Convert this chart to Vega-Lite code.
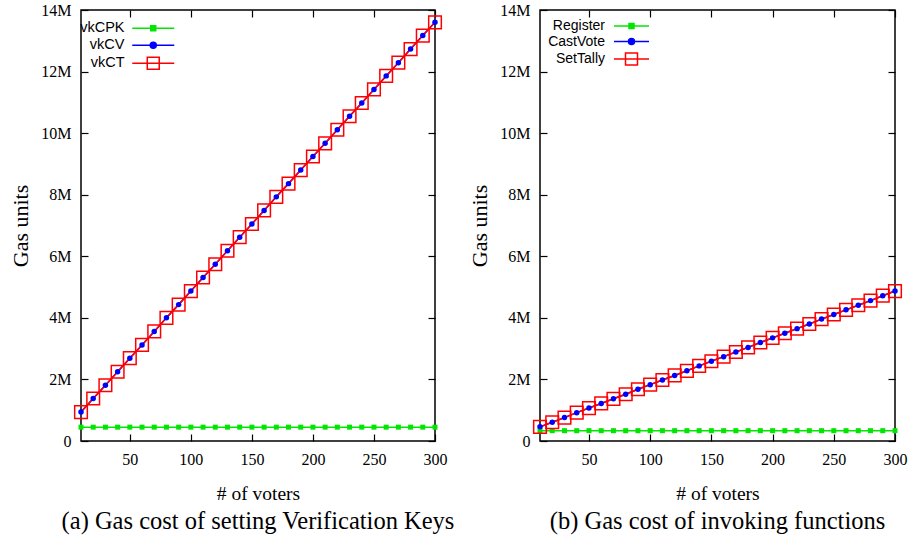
{
  "$schema": "https://vega.github.io/schema/vega-lite/v6.json",
  "background": "white",
  "padding": {"left": 9, "top": 1, "right": 5, "bottom": 2},
  "spacing": 12,
  "resolve": {"scale": {"color": "independent"}, "legend": {"color": "independent"}},
  "config": {
    "view": {"stroke": "black", "strokeWidth": 1.5},
    "axis": {
      "domain": false, "grid": false,
      "tickColor": "black", "tickSize": -7, "tickWidth": 1.2,
      "labelFont": "Liberation Serif", "labelFontSize": 16, "labelColor": "black", "labelPadding": 17, "labelFlush": false,
      "titleFont": "Liberation Serif", "titleFontSize": 19.5, "titleFontWeight": "normal", "titleColor": "black"
    },
    "legend": {"labelFont": "Liberation Sans", "labelFontSize": 14.5, "labelColor": "black"}
  },
  "datasets": {
    "a": [
      {"voters":10,"series":"vkCPK","gas":450000},{"voters":20,"series":"vkCPK","gas":450000},{"voters":30,"series":"vkCPK","gas":450000},{"voters":40,"series":"vkCPK","gas":450000},{"voters":50,"series":"vkCPK","gas":450000},{"voters":60,"series":"vkCPK","gas":450000},{"voters":70,"series":"vkCPK","gas":450000},{"voters":80,"series":"vkCPK","gas":450000},{"voters":90,"series":"vkCPK","gas":450000},{"voters":100,"series":"vkCPK","gas":450000},
      {"voters":110,"series":"vkCPK","gas":450000},{"voters":120,"series":"vkCPK","gas":450000},{"voters":130,"series":"vkCPK","gas":450000},{"voters":140,"series":"vkCPK","gas":450000},{"voters":150,"series":"vkCPK","gas":450000},{"voters":160,"series":"vkCPK","gas":450000},{"voters":170,"series":"vkCPK","gas":450000},{"voters":180,"series":"vkCPK","gas":450000},{"voters":190,"series":"vkCPK","gas":450000},{"voters":200,"series":"vkCPK","gas":450000},
      {"voters":210,"series":"vkCPK","gas":450000},{"voters":220,"series":"vkCPK","gas":450000},{"voters":230,"series":"vkCPK","gas":450000},{"voters":240,"series":"vkCPK","gas":450000},{"voters":250,"series":"vkCPK","gas":450000},{"voters":260,"series":"vkCPK","gas":450000},{"voters":270,"series":"vkCPK","gas":450000},{"voters":280,"series":"vkCPK","gas":450000},{"voters":290,"series":"vkCPK","gas":450000},{"voters":300,"series":"vkCPK","gas":450000},
      {"voters":10,"series":"vkCV","gas":940000},{"voters":20,"series":"vkCV","gas":1380000},{"voters":30,"series":"vkCV","gas":1810000},{"voters":40,"series":"vkCV","gas":2250000},{"voters":50,"series":"vkCV","gas":2690000},{"voters":60,"series":"vkCV","gas":3120000},{"voters":70,"series":"vkCV","gas":3560000},{"voters":80,"series":"vkCV","gas":4000000},{"voters":90,"series":"vkCV","gas":4430000},{"voters":100,"series":"vkCV","gas":4870000},
      {"voters":110,"series":"vkCV","gas":5310000},{"voters":120,"series":"vkCV","gas":5740000},{"voters":130,"series":"vkCV","gas":6180000},{"voters":140,"series":"vkCV","gas":6620000},{"voters":150,"series":"vkCV","gas":7050000},{"voters":160,"series":"vkCV","gas":7490000},{"voters":170,"series":"vkCV","gas":7930000},{"voters":180,"series":"vkCV","gas":8360000},{"voters":190,"series":"vkCV","gas":8800000},{"voters":200,"series":"vkCV","gas":9240000},
      {"voters":210,"series":"vkCV","gas":9670000},{"voters":220,"series":"vkCV","gas":10110000},{"voters":230,"series":"vkCV","gas":10550000},{"voters":240,"series":"vkCV","gas":10980000},{"voters":250,"series":"vkCV","gas":11420000},{"voters":260,"series":"vkCV","gas":11860000},{"voters":270,"series":"vkCV","gas":12290000},{"voters":280,"series":"vkCV","gas":12730000},{"voters":290,"series":"vkCV","gas":13170000},{"voters":300,"series":"vkCV","gas":13600000},
      {"voters":10,"series":"vkCT","gas":940000},{"voters":20,"series":"vkCT","gas":1380000},{"voters":30,"series":"vkCT","gas":1810000},{"voters":40,"series":"vkCT","gas":2250000},{"voters":50,"series":"vkCT","gas":2690000},{"voters":60,"series":"vkCT","gas":3120000},{"voters":70,"series":"vkCT","gas":3560000},{"voters":80,"series":"vkCT","gas":4000000},{"voters":90,"series":"vkCT","gas":4430000},{"voters":100,"series":"vkCT","gas":4870000},
      {"voters":110,"series":"vkCT","gas":5310000},{"voters":120,"series":"vkCT","gas":5740000},{"voters":130,"series":"vkCT","gas":6180000},{"voters":140,"series":"vkCT","gas":6620000},{"voters":150,"series":"vkCT","gas":7050000},{"voters":160,"series":"vkCT","gas":7490000},{"voters":170,"series":"vkCT","gas":7930000},{"voters":180,"series":"vkCT","gas":8360000},{"voters":190,"series":"vkCT","gas":8800000},{"voters":200,"series":"vkCT","gas":9240000},
      {"voters":210,"series":"vkCT","gas":9670000},{"voters":220,"series":"vkCT","gas":10110000},{"voters":230,"series":"vkCT","gas":10550000},{"voters":240,"series":"vkCT","gas":10980000},{"voters":250,"series":"vkCT","gas":11420000},{"voters":260,"series":"vkCT","gas":11860000},{"voters":270,"series":"vkCT","gas":12290000},{"voters":280,"series":"vkCT","gas":12730000},{"voters":290,"series":"vkCT","gas":13170000},{"voters":300,"series":"vkCT","gas":13600000}
    ],
    "b": [
      {"voters":10,"series":"Register","gas":335000},{"voters":20,"series":"Register","gas":335000},{"voters":30,"series":"Register","gas":335000},{"voters":40,"series":"Register","gas":335000},{"voters":50,"series":"Register","gas":335000},{"voters":60,"series":"Register","gas":335000},{"voters":70,"series":"Register","gas":335000},{"voters":80,"series":"Register","gas":335000},{"voters":90,"series":"Register","gas":335000},{"voters":100,"series":"Register","gas":335000},
      {"voters":110,"series":"Register","gas":335000},{"voters":120,"series":"Register","gas":335000},{"voters":130,"series":"Register","gas":335000},{"voters":140,"series":"Register","gas":335000},{"voters":150,"series":"Register","gas":335000},{"voters":160,"series":"Register","gas":335000},{"voters":170,"series":"Register","gas":335000},{"voters":180,"series":"Register","gas":335000},{"voters":190,"series":"Register","gas":335000},{"voters":200,"series":"Register","gas":335000},
      {"voters":210,"series":"Register","gas":335000},{"voters":220,"series":"Register","gas":335000},{"voters":230,"series":"Register","gas":335000},{"voters":240,"series":"Register","gas":335000},{"voters":250,"series":"Register","gas":335000},{"voters":260,"series":"Register","gas":335000},{"voters":270,"series":"Register","gas":335000},{"voters":280,"series":"Register","gas":335000},{"voters":290,"series":"Register","gas":335000},{"voters":300,"series":"Register","gas":335000},
      {"voters":10,"series":"CastVote","gas":460000},{"voters":20,"series":"CastVote","gas":610000},{"voters":30,"series":"CastVote","gas":760000},{"voters":40,"series":"CastVote","gas":920000},{"voters":50,"series":"CastVote","gas":1070000},{"voters":60,"series":"CastVote","gas":1220000},{"voters":70,"series":"CastVote","gas":1370000},{"voters":80,"series":"CastVote","gas":1520000},{"voters":90,"series":"CastVote","gas":1680000},{"voters":100,"series":"CastVote","gas":1830000},
      {"voters":110,"series":"CastVote","gas":1980000},{"voters":120,"series":"CastVote","gas":2130000},{"voters":130,"series":"CastVote","gas":2280000},{"voters":140,"series":"CastVote","gas":2440000},{"voters":150,"series":"CastVote","gas":2590000},{"voters":160,"series":"CastVote","gas":2740000},{"voters":170,"series":"CastVote","gas":2890000},{"voters":180,"series":"CastVote","gas":3040000},{"voters":190,"series":"CastVote","gas":3200000},{"voters":200,"series":"CastVote","gas":3350000},
      {"voters":210,"series":"CastVote","gas":3500000},{"voters":220,"series":"CastVote","gas":3650000},{"voters":230,"series":"CastVote","gas":3800000},{"voters":240,"series":"CastVote","gas":3960000},{"voters":250,"series":"CastVote","gas":4110000},{"voters":260,"series":"CastVote","gas":4260000},{"voters":270,"series":"CastVote","gas":4410000},{"voters":280,"series":"CastVote","gas":4560000},{"voters":290,"series":"CastVote","gas":4720000},{"voters":300,"series":"CastVote","gas":4870000},
      {"voters":10,"series":"SetTally","gas":460000},{"voters":20,"series":"SetTally","gas":610000},{"voters":30,"series":"SetTally","gas":760000},{"voters":40,"series":"SetTally","gas":920000},{"voters":50,"series":"SetTally","gas":1070000},{"voters":60,"series":"SetTally","gas":1220000},{"voters":70,"series":"SetTally","gas":1370000},{"voters":80,"series":"SetTally","gas":1520000},{"voters":90,"series":"SetTally","gas":1680000},{"voters":100,"series":"SetTally","gas":1830000},
      {"voters":110,"series":"SetTally","gas":1980000},{"voters":120,"series":"SetTally","gas":2130000},{"voters":130,"series":"SetTally","gas":2280000},{"voters":140,"series":"SetTally","gas":2440000},{"voters":150,"series":"SetTally","gas":2590000},{"voters":160,"series":"SetTally","gas":2740000},{"voters":170,"series":"SetTally","gas":2890000},{"voters":180,"series":"SetTally","gas":3040000},{"voters":190,"series":"SetTally","gas":3200000},{"voters":200,"series":"SetTally","gas":3350000},
      {"voters":210,"series":"SetTally","gas":3500000},{"voters":220,"series":"SetTally","gas":3650000},{"voters":230,"series":"SetTally","gas":3800000},{"voters":240,"series":"SetTally","gas":3960000},{"voters":250,"series":"SetTally","gas":4110000},{"voters":260,"series":"SetTally","gas":4260000},{"voters":270,"series":"SetTally","gas":4410000},{"voters":280,"series":"SetTally","gas":4560000},{"voters":290,"series":"SetTally","gas":4720000},{"voters":300,"series":"SetTally","gas":4870000}
    ]
  },
  "hconcat": [
    {
      "width": 354, "height": 431,
      "data": {"name": "a"},
      "title": {"text": "(a) Gas cost of setting Verification Keys", "orient": "bottom", "font": "Liberation Serif", "fontSize": 24.5, "fontWeight": "normal", "color": "black", "offset": 7},
      "layer": [
        {
          "mark": {"type": "line", "strokeWidth": 1.5},
          "encoding": {
            "x": {"field": "voters", "type": "quantitative", "scale": {"domain": [10, 300], "nice": false, "zero": false},
                  "axis": {"values": [50, 100, 150, 200, 250, 300], "title": "# of voters", "titlePadding": 17}},
            "y": {"field": "gas", "type": "quantitative", "scale": {"domain": [0, 14000000], "nice": false},
                  "axis": {"values": [0, 2000000, 4000000, 6000000, 8000000, 10000000, 12000000, 14000000], "labelExpr": "datum.value === 0 ? '0' : (datum.value / 1000000) + 'M'", "title": "Gas units", "titleFontSize": 22, "titlePadding": 8}},
            "color": {"field": "series", "type": "nominal",
                      "scale": {"domain": ["vkCPK", "vkCV", "vkCT"], "range": ["#00e600", "#0000ff", "#ff0000"]},
                      "legend": {"orient": "none", "legendX": 37, "legendY": 11, "title": null, "symbolSize": 4, "symbolStrokeWidth": 1.5,
                                 "labelAlign": "right", "labelOffset": -8, "rowPadding": 2, "labelLimit": 200,
                                 "encode": {"symbols": {"update": {
                                   "shape": {"signal": "datum.value === 'vkCPK' ? 'M7,0H49M25.5,-2.5H30.5V2.5H25.5Z' : datum.value === 'vkCV' ? 'M7,0H49M25,0A3,3 0 1,0 31,0A3,3 0 1,0 25,0Z' : 'M7,0H49M22,-6H34V6H22Z'"},
                                   "fill": {"signal": "datum.value === 'vkCPK' ? '#00e600' : datum.value === 'vkCV' ? '#0000ff' : 'transparent'"},
                                   "stroke": {"signal": "datum.value === 'vkCPK' ? '#00e600' : datum.value === 'vkCV' ? '#0000ff' : '#ff0000'"},
                                   "strokeWidth": {"value": 1.5}, "opacity": {"value": 1}}}}}}
          }
        },
        {
          "transform": [{"filter": "datum.series === 'vkCPK'"}],
          "mark": {"type": "point", "shape": "square", "filled": true, "size": 25, "color": "#00e600", "opacity": 1},
          "encoding": {"x": {"field": "voters", "type": "quantitative", "axis": null}, "y": {"field": "gas", "type": "quantitative", "axis": null}}
        },
        {
          "transform": [{"filter": "datum.series === 'vkCV'"}],
          "mark": {"type": "point", "shape": "circle", "filled": true, "size": 30, "color": "#0000ff", "opacity": 1},
          "encoding": {"x": {"field": "voters", "type": "quantitative", "axis": null}, "y": {"field": "gas", "type": "quantitative", "axis": null}}
        },
        {
          "transform": [{"filter": "datum.series === 'vkCT'"}],
          "mark": {"type": "point", "shape": "square", "filled": false, "size": 160, "color": "#ff0000", "strokeWidth": 1.5, "opacity": 1},
          "encoding": {"x": {"field": "voters", "type": "quantitative", "axis": null}, "y": {"field": "gas", "type": "quantitative", "axis": null}}
        },
        {
          "mark": {"type": "point", "opacity": 0},
          "encoding": {
            "x": {"field": "voters", "type": "quantitative", "axis": {"orient": "top", "labels": false, "title": null, "values": [50, 100, 150, 200, 250, 300]}},
            "y": {"field": "gas", "type": "quantitative", "axis": {"orient": "right", "labels": false, "title": null, "values": [0, 2000000, 4000000, 6000000, 8000000, 10000000, 12000000, 14000000]}}
          }
        }
      ],
      "resolve": {"axis": {"x": "independent", "y": "independent"}}
    },
    {
      "width": 355, "height": 431,
      "data": {"name": "b"},
      "title": {"text": "(b) Gas cost of invoking functions", "orient": "bottom", "font": "Liberation Serif", "fontSize": 24.5, "fontWeight": "normal", "color": "black", "offset": 7},
      "layer": [
        {
          "mark": {"type": "line", "strokeWidth": 1.5},
          "encoding": {
            "x": {"field": "voters", "type": "quantitative", "scale": {"domain": [10, 300], "nice": false, "zero": false},
                  "axis": {"values": [50, 100, 150, 200, 250, 300], "title": "# of voters", "titlePadding": 17}},
            "y": {"field": "gas", "type": "quantitative", "scale": {"domain": [0, 14000000], "nice": false},
                  "axis": {"values": [0, 2000000, 4000000, 6000000, 8000000, 10000000, 12000000, 14000000], "labelExpr": "datum.value === 0 ? '0' : (datum.value / 1000000) + 'M'", "title": "Gas units", "titleFontSize": 22, "titlePadding": 8}},
            "color": {"field": "series", "type": "nominal",
                      "scale": {"domain": ["Register", "CastVote", "SetTally"], "range": ["#00e600", "#0000ff", "#ff0000"]},
                      "legend": {"orient": "none", "legendX": 59, "legendY": 9, "title": null, "symbolSize": 4, "symbolStrokeWidth": 1.5,
                                 "labelAlign": "right", "labelOffset": -8, "rowPadding": 1.5, "labelLimit": 200, "labelFontSize": 14,
                                 "encode": {"symbols": {"update": {
                                   "shape": {"signal": "datum.value === 'Register' ? 'M8,0H43M23,-2.5H28V2.5H23Z' : datum.value === 'CastVote' ? 'M8,0H43M22.5,0A3,3 0 1,0 28.5,0A3,3 0 1,0 22.5,0Z' : 'M8,0H43M19.5,-6H31.5V6H19.5Z'"},
                                   "fill": {"signal": "datum.value === 'Register' ? '#00e600' : datum.value === 'CastVote' ? '#0000ff' : 'transparent'"},
                                   "stroke": {"signal": "datum.value === 'Register' ? '#00e600' : datum.value === 'CastVote' ? '#0000ff' : '#ff0000'"},
                                   "strokeWidth": {"value": 1.5}, "opacity": {"value": 1}}}}}}
          }
        },
        {
          "transform": [{"filter": "datum.series === 'Register'"}],
          "mark": {"type": "point", "shape": "square", "filled": true, "size": 25, "color": "#00e600", "opacity": 1},
          "encoding": {"x": {"field": "voters", "type": "quantitative", "axis": null}, "y": {"field": "gas", "type": "quantitative", "axis": null}}
        },
        {
          "transform": [{"filter": "datum.series === 'CastVote'"}],
          "mark": {"type": "point", "shape": "circle", "filled": true, "size": 30, "color": "#0000ff", "opacity": 1},
          "encoding": {"x": {"field": "voters", "type": "quantitative", "axis": null}, "y": {"field": "gas", "type": "quantitative", "axis": null}}
        },
        {
          "transform": [{"filter": "datum.series === 'SetTally'"}],
          "mark": {"type": "point", "shape": "square", "filled": false, "size": 160, "color": "#ff0000", "strokeWidth": 1.5, "opacity": 1},
          "encoding": {"x": {"field": "voters", "type": "quantitative", "axis": null}, "y": {"field": "gas", "type": "quantitative", "axis": null}}
        },
        {
          "mark": {"type": "point", "opacity": 0},
          "encoding": {
            "x": {"field": "voters", "type": "quantitative", "axis": {"orient": "top", "labels": false, "title": null, "values": [50, 100, 150, 200, 250, 300]}},
            "y": {"field": "gas", "type": "quantitative", "axis": {"orient": "right", "labels": false, "title": null, "values": [0, 2000000, 4000000, 6000000, 8000000, 10000000, 12000000, 14000000]}}
          }
        }
      ],
      "resolve": {"axis": {"x": "independent", "y": "independent"}}
    }
  ]
}
